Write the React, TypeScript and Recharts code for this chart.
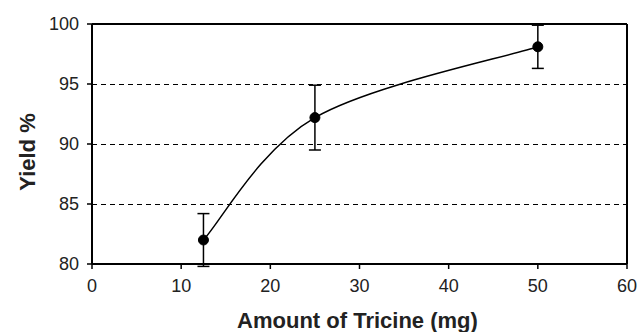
import {
  CartesianGrid,
  ErrorBar,
  Label,
  Line,
  LineChart,
  ReferenceLine,
  XAxis,
  YAxis,
} from "recharts";

const amounts = [12.5, 25, 50];
const yields = [82.0, 92.2, 98.1];
const yieldErrors = [2.2, 2.7, 1.8];
const xTicks = [0, 10, 20, 30, 40, 50, 60];
const yTicks = [80, 85, 90, 95, 100];

const FONT = "Liberation Sans, Arial, Helvetica, sans-serif";

// Excel-style smoothed line: cubic bezier with catmull-rom tangents
function smoothCurve(context: any) {
  let pts: [number, number][] = [];
  return {
    areaStart() {},
    areaEnd() {},
    lineStart() {
      pts = [];
    },
    point(x: number, y: number) {
      pts.push([+x, +y]);
    },
    lineEnd() {
      if (!pts.length) return;
      context.moveTo(pts[0][0], pts[0][1]);
      for (let i = 0; i < pts.length - 1; i++) {
        const p0 = pts[i - 1] ?? pts[i];
        const p1 = pts[i];
        const p2 = pts[i + 1];
        const p3 = pts[i + 2] ?? pts[i + 1];
        context.bezierCurveTo(
          p1[0] + (p2[0] - p0[0]) / 6,
          p1[1] + (p2[1] - p0[1]) / 6,
          p2[0] - (p3[0] - p1[0]) / 6,
          p2[1] - (p3[1] - p1[1]) / 6,
          p2[0],
          p2[1]
        );
      }
    },
  };
}

// dashed gridline nudged half a pixel so it renders crisp
const gridLine = (props: any) => (
  <line
    key={props.key}
    x1={props.x1}
    x2={props.x2}
    y1={props.y1}
    y2={props.y2}
    transform="translate(0,0.5)"
    stroke="#000"
    strokeWidth={1}
    strokeDasharray="5 4"
  />
);

export default function App() {
  const data = amounts.map((a, i) => ({
    amount: a,
    yield: yields[i],
    err: yieldErrors[i],
  }));

  return (
    <div style={{ width: 640, height: 332, background: "#fff" }}>
      <style>{`body{margin:0}`}</style>
      <LineChart
        width={640}
        height={332}
        data={data}
        margin={{ top: 24, right: 13, bottom: 0, left: 0 }}
      >
        <CartesianGrid vertical={false} horizontal={gridLine} />
        <XAxis
          dataKey="amount"
          type="number"
          domain={[0, 60]}
          ticks={xTicks}
          height={68}
          tickSize={5}
          tickMargin={10}
          interval={0}
          tick={{ fontSize: 18, fill: "#222", fontFamily: FONT }}
          tickLine={{ stroke: "#000", strokeWidth: 1.5 }}
          axisLine={{ stroke: "#000", strokeWidth: 2 }}
        >
          <Label
            content={({ viewBox }: any) => (
              <text
                x={viewBox.x + viewBox.width / 2 - 2}
                y={viewBox.y + 64}
                textAnchor="middle"
                fontSize={22}
                fontWeight="bold"
                fontFamily={FONT}
                fill="#222"
              >
                Amount of Tricine (mg)
              </text>
            )}
          />
        </XAxis>
        <YAxis
          type="number"
          domain={[80, 100]}
          ticks={yTicks}
          allowDataOverflow
          width={92}
          tickSize={5}
          tickMargin={8}
          interval={0}
          tick={{ fontSize: 18, fill: "#222", fontFamily: FONT }}
          tickLine={{ stroke: "#000", strokeWidth: 1.5 }}
          axisLine={{ stroke: "#000", strokeWidth: 2 }}
        >
          <Label
            content={({ viewBox }: any) => {
              const cx = viewBox.x + 27;
              const cy = viewBox.y + viewBox.height / 2 + 8;
              return (
                <text
                  x={cx}
                  y={cy}
                  transform={`rotate(-90, ${cx}, ${cy})`}
                  textAnchor="middle"
                  dominantBaseline="central"
                  fontSize={22}
                  fontWeight="bold"
                  fontFamily={FONT}
                  fill="#222"
                >
                  Yield %
                </text>
              );
            }}
          />
        </YAxis>
        <ReferenceLine y={100} stroke="#000" strokeWidth={2} />
        <ReferenceLine x={60} stroke="#000" strokeWidth={2} />
        <Line
          dataKey="yield"
          type={smoothCurve as any}
          stroke="#000"
          strokeWidth={1.5}
          dot={{ r: 5, fill: "#000", stroke: "#000", strokeWidth: 1 }}
          activeDot={false}
          isAnimationActive={false}
        >
          <ErrorBar
            dataKey="err"
            direction="y"
            width={6}
            stroke="#000"
            strokeWidth={1.5}
            isAnimationActive={false}
          />
        </Line>
      </LineChart>
    </div>
  );
}
